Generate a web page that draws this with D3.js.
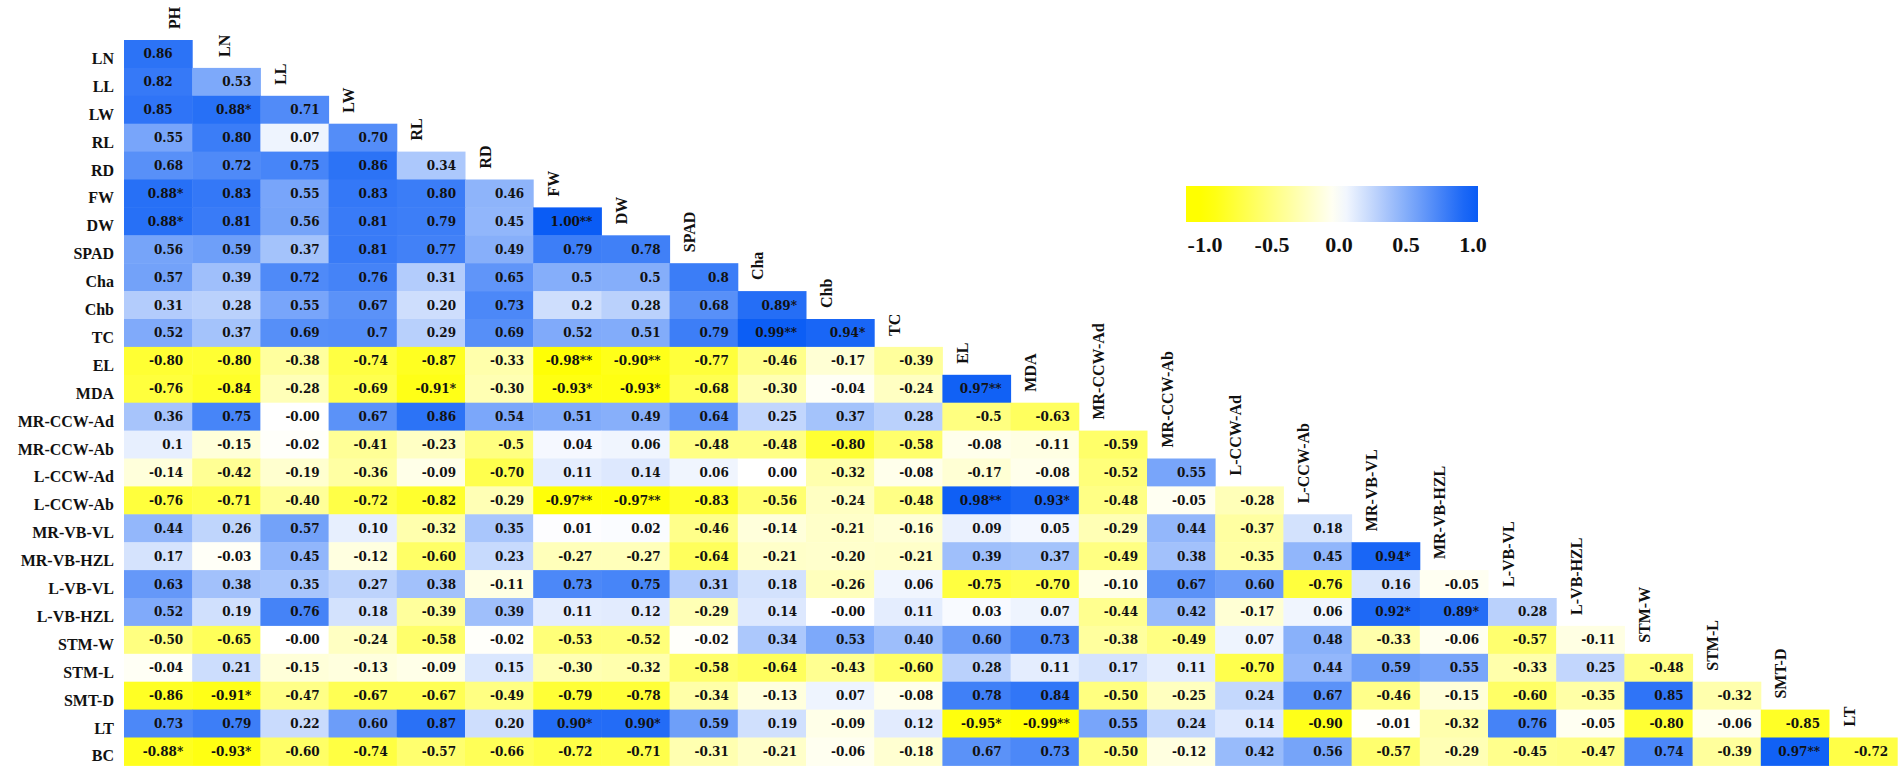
<!DOCTYPE html>
<html>
<head>
<meta charset="utf-8">
<script src="https://cdn.jsdelivr.net/npm/d3@7"></script>
<style>
    body { margin: 0; background: #fff; }
</style>
</head>
<body>
<svg id="corrChart" width="1903" height="766"></svg>
<script>
// variable names (rows use all but the first, columns all but the last)
var variables = ["PH", "LN", "LL", "LW", "RL", "RD", "FW", "DW", "SPAD", "Cha", "Chb", "TC",
    "EL", "MDA", "MR-CCW-Ad", "MR-CCW-Ab", "L-CCW-Ad", "L-CCW-Ab", "MR-VB-VL", "MR-VB-HZL",
    "L-VB-VL", "L-VB-HZL", "STM-W", "STM-L", "SMT-D", "LT", "BC"];

// lower triangle, one row per variable from LN down to BC (text as printed)
var lowerTriangle = [
    ["0.86"],
    ["0.82", "0.53"],
    ["0.85", "0.88*", "0.71"],
    ["0.55", "0.80", "0.07", "0.70"],
    ["0.68", "0.72", "0.75", "0.86", "0.34"],
    ["0.88*", "0.83", "0.55", "0.83", "0.80", "0.46"],
    ["0.88*", "0.81", "0.56", "0.81", "0.79", "0.45", "1.00**"],
    ["0.56", "0.59", "0.37", "0.81", "0.77", "0.49", "0.79", "0.78"],
    ["0.57", "0.39", "0.72", "0.76", "0.31", "0.65", "0.5", "0.5", "0.8"],
    ["0.31", "0.28", "0.55", "0.67", "0.20", "0.73", "0.2", "0.28", "0.68", "0.89*"],
    ["0.52", "0.37", "0.69", "0.7", "0.29", "0.69", "0.52", "0.51", "0.79", "0.99**", "0.94*"],
    ["-0.80", "-0.80", "-0.38", "-0.74", "-0.87", "-0.33", "-0.98**", "-0.90**", "-0.77", "-0.46", "-0.17", "-0.39"],
    ["-0.76", "-0.84", "-0.28", "-0.69", "-0.91*", "-0.30", "-0.93*", "-0.93*", "-0.68", "-0.30", "-0.04", "-0.24", "0.97**"],
    ["0.36", "0.75", "-0.00", "0.67", "0.86", "0.54", "0.51", "0.49", "0.64", "0.25", "0.37", "0.28", "-0.5", "-0.63"],
    ["0.1", "-0.15", "-0.02", "-0.41", "-0.23", "-0.5", "0.04", "0.06", "-0.48", "-0.48", "-0.80", "-0.58", "-0.08", "-0.11", "-0.59"],
    ["-0.14", "-0.42", "-0.19", "-0.36", "-0.09", "-0.70", "0.11", "0.14", "0.06", "0.00", "-0.32", "-0.08", "-0.17", "-0.08", "-0.52", "0.55"],
    ["-0.76", "-0.71", "-0.40", "-0.72", "-0.82", "-0.29", "-0.97**", "-0.97**", "-0.83", "-0.56", "-0.24", "-0.48", "0.98**", "0.93*", "-0.48", "-0.05", "-0.28"],
    ["0.44", "0.26", "0.57", "0.10", "-0.32", "0.35", "0.01", "0.02", "-0.46", "-0.14", "-0.21", "-0.16", "0.09", "0.05", "-0.29", "0.44", "-0.37", "0.18"],
    ["0.17", "-0.03", "0.45", "-0.12", "-0.60", "0.23", "-0.27", "-0.27", "-0.64", "-0.21", "-0.20", "-0.21", "0.39", "0.37", "-0.49", "0.38", "-0.35", "0.45", "0.94*"],
    ["0.63", "0.38", "0.35", "0.27", "0.38", "-0.11", "0.73", "0.75", "0.31", "0.18", "-0.26", "0.06", "-0.75", "-0.70", "-0.10", "0.67", "0.60", "-0.76", "0.16", "-0.05"],
    ["0.52", "0.19", "0.76", "0.18", "-0.39", "0.39", "0.11", "0.12", "-0.29", "0.14", "-0.00", "0.11", "0.03", "0.07", "-0.44", "0.42", "-0.17", "0.06", "0.92*", "0.89*", "0.28"],
    ["-0.50", "-0.65", "-0.00", "-0.24", "-0.58", "-0.02", "-0.53", "-0.52", "-0.02", "0.34", "0.53", "0.40", "0.60", "0.73", "-0.38", "-0.49", "0.07", "0.48", "-0.33", "-0.06", "-0.57", "-0.11"],
    ["-0.04", "0.21", "-0.15", "-0.13", "-0.09", "0.15", "-0.30", "-0.32", "-0.58", "-0.64", "-0.43", "-0.60", "0.28", "0.11", "0.17", "0.11", "-0.70", "0.44", "0.59", "0.55", "-0.33", "0.25", "-0.48"],
    ["-0.86", "-0.91*", "-0.47", "-0.67", "-0.67", "-0.49", "-0.79", "-0.78", "-0.34", "-0.13", "0.07", "-0.08", "0.78", "0.84", "-0.50", "-0.25", "0.24", "0.67", "-0.46", "-0.15", "-0.60", "-0.35", "0.85", "-0.32"],
    ["0.73", "0.79", "0.22", "0.60", "0.87", "0.20", "0.90*", "0.90*", "0.59", "0.19", "-0.09", "0.12", "-0.95*", "-0.99**", "0.55", "0.24", "0.14", "-0.90", "-0.01", "-0.32", "0.76", "-0.05", "-0.80", "-0.06", "-0.85"],
    ["-0.88*", "-0.93*", "-0.60", "-0.74", "-0.57", "-0.66", "-0.72", "-0.71", "-0.31", "-0.21", "-0.06", "-0.18", "0.67", "0.73", "-0.50", "-0.12", "0.42", "0.56", "-0.57", "-0.29", "-0.45", "-0.47", "0.74", "-0.39", "0.97**", "-0.72"]
];

// colour bar ticks
var legendTicks = [-1.0, -0.5, 0.0, 0.5, 1.0];

// cells whose text sits in the middle instead of on the right
var centeredCells = ["LN|PH", "LL|PH", "LW|PH"];

var rowNames = variables.slice(1),
    colNames = variables.slice(0, variables.length - 1);

// flatten into cells
var cells = [];
lowerTriangle.forEach(function (row, i) {
    row.forEach(function (txt, j) {
        cells.push({ row: rowNames[i], col: colNames[j], text: txt, value: parseFloat(txt) });
    });
});

var svg = d3.select("#corrChart");

// Step 1 - scales
var x = d3.scaleBand()
    .domain(colNames)
    .range([124, 124 + colNames.length * 68.2]);

var y = d3.scaleBand()
    .domain(rowNames)
    .range([40, 40 + rowNames.length * 27.9]);

var color = d3.scaleLinear()
    .domain([-1, 0, 1])
    .range(["#ffff00", "#ffffff", "#0a5cf5"])
    .clamp(true);

// Step 2 - cells
svg.append("g")
    .selectAll("rect")
    .data(cells)
    .enter()
    .append("rect")
    .attr("x", function (d) { return x(d.col); })
    .attr("y", function (d) { return y(d.row); })
    .attr("width", x.bandwidth() + 0.5)
    .attr("height", y.bandwidth() + 0.5)
    .style("fill", function (d) { return color(d.value); });

svg.append("g")
    .selectAll("text")
    .data(cells)
    .enter()
    .append("text")
    .attr("x", function (d) {
        if (centeredCells.indexOf(d.row + "|" + d.col) >= 0) return x(d.col) + x.bandwidth() / 2;
        return x(d.col) + x.bandwidth() - 9;
    })
    .attr("y", function (d) { return y(d.row) + y.bandwidth() / 2 + 4.5; })
    .attr("text-anchor", function (d) {
        return centeredCells.indexOf(d.row + "|" + d.col) >= 0 ? "middle" : "end";
    })
    .style("font-family", "DejaVu Serif")
    .style("font-weight", "bold")
    .style("font-size", "12px")
    .style("fill", "#111")
    .text(function (d) { return d.text; });

// Step 3 - row labels
svg.append("g")
    .selectAll("text")
    .data(rowNames)
    .enter()
    .append("text")
    .attr("x", 114)
    .attr("y", function (d) { return y(d) + y.bandwidth() / 2 + 10; })
    .attr("text-anchor", "end")
    .style("font-family", "Liberation Serif")
    .style("font-weight", "bold")
    .style("font-size", "16px")
    .style("fill", "#111")
    .text(function (d) { return d; });

// Step 4 - column labels, rotated, sitting above the first cell of each column
var labelShift = { "PH": 50, "LN": 32 };
svg.append("g")
    .selectAll("text")
    .data(colNames)
    .enter()
    .append("text")
    .attr("transform", function (d, i) {
        var cx = x(d) + (labelShift[d] || 20) + 5.5;
        var cy = y(rowNames[i]) - 11;
        return "translate(" + cx + "," + cy + ")rotate(-90)";
    })
    .attr("text-anchor", "start")
    .style("font-family", "Liberation Serif")
    .style("font-weight", "bold")
    .style("font-size", "16px")
    .style("fill", "#111")
    .text(function (d) { return d; });

// Step 5 - colour bar
var lx = d3.scaleLinear().domain([-1, 1]).range([1205, 1473]);
var barLo = lx.invert(1186), barHi = lx.invert(1478);

var grad = svg.append("defs")
    .append("linearGradient")
    .attr("id", "corrGrad")
    .attr("x1", "0%").attr("x2", "100%")
    .attr("y1", "0%").attr("y2", "0%");

grad.selectAll("stop")
    .data(d3.range(0, 1.0001, 0.05))
    .enter()
    .append("stop")
    .attr("offset", function (t) { return (t * 100) + "%"; })
    .attr("stop-color", function (t) { return color(barLo + t * (barHi - barLo)); });

svg.append("rect")
    .attr("x", lx(barLo))
    .attr("y", 186)
    .attr("width", lx(barHi) - lx(barLo))
    .attr("height", 36)
    .style("fill", "url(#corrGrad)");

svg.append("g")
    .selectAll("text")
    .data(legendTicks)
    .enter()
    .append("text")
    .attr("x", function (d) { return lx(d); })
    .attr("y", 252)
    .attr("text-anchor", "middle")
    .style("font-family", "Liberation Serif")
    .style("font-weight", "bold")
    .style("font-size", "22px")
    .style("fill", "#111")
    .text(function (d) { return d3.format(".1f")(d).replace("−", "-"); });
</script>
</body>
</html>
